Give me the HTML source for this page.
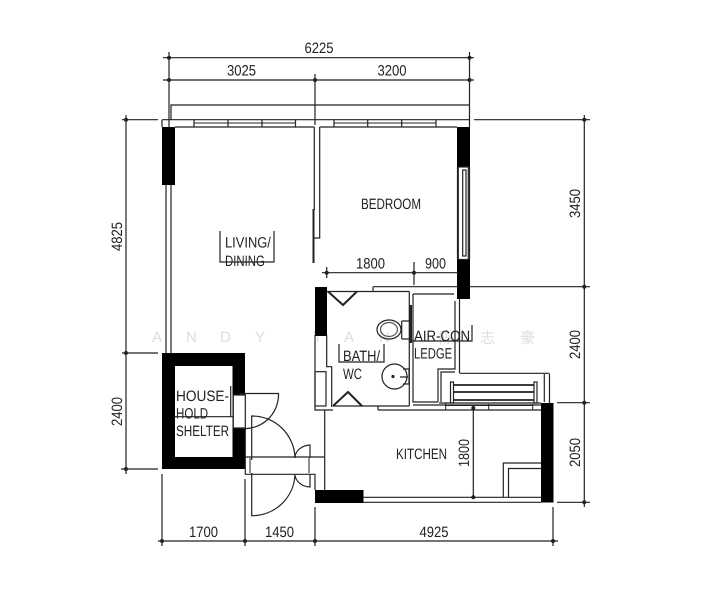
<!DOCTYPE html>
<html><head><meta charset="utf-8"><style>
html,body{margin:0;padding:0;background:#fff;width:707px;height:600px;overflow:hidden}
svg{display:block}
text{font-family:"Liberation Sans","Noto Sans CJK SC",sans-serif;font-size:15px;fill:#222;text-rendering:geometricPrecision}
.w{font-size:15px;fill:#ddd}
</style></head><body>
<svg width="707" height="600" viewBox="0 0 707 600" xmlns="http://www.w3.org/2000/svg">
<g>
<text class="w" x="152" y="342">A</text><text class="w" x="186" y="342">N</text><text class="w" x="220" y="342">D</text><text class="w" x="255" y="342">Y</text>
<text class="w" x="313" y="342">T</text><text class="w" x="344" y="342">A</text><text class="w" x="379" y="342">N</text>
<text class="w" x="439" y="343">陈</text><text class="w" x="480" y="343">志</text><text class="w" x="520" y="343">豪</text>
</g>
<!-- black walls -->
<g fill="#000" stroke="none">
<rect x="162" y="127" width="13" height="58"/>
<rect x="457" y="127" width="13" height="40"/>
<rect x="457" y="259" width="13" height="40"/>
<rect x="315" y="287" width="12" height="49"/>
<rect x="315" y="490" width="48.5" height="13"/>
<rect x="541" y="403" width="12.5" height="99.5"/>
<path fill-rule="evenodd" d="M162 353H245V469H162Z M175 366V457H232.5V366Z"/>
</g>
<rect x="233" y="395" width="12.5" height="33" fill="#fff"/>
<g fill="none" stroke="#222" stroke-width="1.2">
<!-- dimension lines -->
<path d="M163 57.7H474M163 80H474M169 52V127M315 74V125M469.5 52V127"/>
<path d="M171 120V105H469.500"/>
<path d="M122 119.700H158M474 119.700H590M126 115V358M122 353H158M126 353V474M121 469H158"/>
<path d="M584.300 115V507M470 286.700H590M557 402.700H590M557 502.300H590"/>
<path d="M158 541H558M162 474V546M245 479V546M315 507V546M553 507V546"/>
<path d="M322 272.700H458M326.700 267V278M414 262V285"/>
<path d="M473.300 406V499"/>
<!-- top wall -->
<path d="M162 119.700H470M175 127H314.300M319.700 127H457"/>
<path d="M194 120V127M228 120V127M262 120V127M295.500 120V127M334 120V127M367.700 120V127M401.700 120V127M436 120V127"/>
<path d="M194 123H295.500M334 123H436" stroke-width="1"/>
<path d="M162 120V127"/>
<!-- left wall double line -->
<path d="M166 185V353M171 185V353"/>
<!-- partition -->
<path d="M314.300 127V210M319.700 127V238H314.300"/>
<path d="M313.500 209V263" stroke-width="2"/>
<!-- right window -->
<path d="M457.500 167V259M469.500 167V259"/>
<rect x="458.300" y="167" width="10" height="92.500" fill="#fff"/>
<rect x="462.700" y="170" width="3.300" height="86"/>
<!-- labels brackets -->
<path d="M220 231V262H274V231"/>
<path d="M339 344V362H384V344"/>
<path d="M410 325V341H472V325"/>
<!-- bath -->
<path d="M315 335V410H333M326.700 335V366.700H331.700V407"/>
<rect x="315" y="371.700" width="11" height="34.300"/>
<path d="M333 406H409.300"/>
<path d="M327 291.500H409.300M373 286.700H458M373 286.700V291.500"/>
<path d="M328 291.500L343 305L357 291.500M333 406L348 392L362 406" stroke-width="2"/>
<path d="M409.300 291.500V406M413 294V402H438M413 294H454"/>
<path d="M378 406V410M378 410H541M413 405H541"/>
<path d="M410.500 305V343" stroke-width="3"/>
<!-- toilet -->
<ellipse cx="389" cy="329.500" rx="12" ry="9.500"/>
<ellipse cx="389" cy="329.500" rx="8.500" ry="7" stroke="#555"/>
<path d="M401.700 321H409M401.700 339H409M401.700 321V339"/>
<!-- basin -->
<circle cx="394.500" cy="376.500" r="12.500"/>
<circle cx="393" cy="376.500" r="1" fill="#222"/>
<path d="M403 369H409V384H403M400 377H408"/>
<!-- ledge right -->
<path d="M455 301V369H438V402M459.500 299V373M441 402V372H455"/>
<path d="M459.500 373.300H549.500M544.300 374V402M549.500 374V403"/>
<rect x="450.500" y="382" width="3" height="21"/>
<rect x="534" y="382" width="3" height="21"/>
<path d="M453.500 385H534M453.500 392H534M453.500 400H534" stroke-width="1.800"/>
<path d="M445.700 403V410M488.700 404V410M532.700 404V410M445 405.500H533" stroke-width="1"/>
<path d="M439 403H541"/>
<!-- kitchen -->
<path d="M363 497.300H541M363 502.300H541"/>
<path d="M503.300 497V463H541M508.500 497V468.500H541"/>
<path d="M324.700 410V490"/>
<!-- shelter -->
<path d="M175 416.700H233M230.700 386V417"/>
<path d="M233.300 395V428M233 395H245M233 428H245"/>
<path d="M245.300 393V474.300"/>
<path d="M240 393.500H278.500A34 34 0 0 1 238 428"/>
<!-- main door -->
<path d="M245 457H324.700M245 474.300H315V490"/>
<path d="M251.700 460V416A43 43 0 0 1 295 458"/>
<path d="M251.700 473V515.700A43 43 0 0 0 295 475"/>
<path d="M295 457A16 13 0 0 1 310 445V458M295 475A16 13 0 0 0 310 487V474"/>
<path d="M250 458V473M309 458V473" stroke-width="1"/>
</g>
<g fill="#222">
<circle cx="169" cy="57.700" r="2"/><circle cx="169" cy="80" r="2"/><circle cx="315" cy="80" r="2"/>
<circle cx="469.500" cy="57.700" r="2"/><circle cx="469.500" cy="80" r="2"/>
<circle cx="126" cy="119.700" r="2"/><circle cx="126" cy="353" r="2"/><circle cx="126" cy="469" r="2"/>
<circle cx="584.300" cy="119.700" r="2"/><circle cx="584.300" cy="286.700" r="2"/><circle cx="584.300" cy="402.700" r="2"/><circle cx="584.300" cy="502.300" r="2"/>
<circle cx="162" cy="541" r="2"/><circle cx="245" cy="541" r="2"/><circle cx="315" cy="541" r="2"/><circle cx="553" cy="541" r="2"/>
<circle cx="326.700" cy="272.700" r="2"/><circle cx="414" cy="272.700" r="2"/>
<circle cx="473.300" cy="408" r="2"/><circle cx="473.300" cy="497.300" r="2"/>
</g>
<!-- text -->
<g>
<text transform="translate(304.500 53) scale(.87 1)">6225</text>
<text transform="translate(227 75.700) scale(.87 1)">3025</text>
<text transform="translate(377.500 75.500) scale(.87 1)">3200</text>
<text transform="translate(361 209) scale(.774 1)">BEDROOM</text>
<text transform="translate(356 268.500) scale(.87 1)">1800</text>
<text transform="translate(425 268.500) scale(.84 1)">900</text>
<text transform="translate(225 247.500) scale(.86 1)">LIVING/</text>
<text transform="translate(225 266) scale(.76 1)">DINING</text>
<text transform="translate(343 361) scale(.86 1)">BATH/</text>
<text transform="translate(343 379) scale(.76 1)">WC</text>
<text transform="translate(414 341) scale(.885 1)">AIR-CON</text>
<text transform="translate(414 358.500) scale(.75 1)">LEDGE</text>
<text transform="translate(176 401) scale(.91 1)">HOUSE-</text>
<text transform="translate(176 418.500) scale(.77 1)">HOLD</text>
<text transform="translate(176 436) scale(.78 1)">SHELTER</text>
<text transform="translate(396 459) scale(.775 1)">KITCHEN</text>
<text transform="translate(189 537) scale(.87 1)">1700</text>
<text transform="translate(265 537) scale(.87 1)">1450</text>
<text transform="translate(419.500 537) scale(.87 1)">4925</text>
<text transform="translate(122 251) rotate(-90) scale(.87 1)">4825</text>
<text transform="translate(122 426) rotate(-90) scale(.87 1)">2400</text>
<text transform="translate(580 218) rotate(-90) scale(.87 1)">3450</text>
<text transform="translate(580 359) rotate(-90) scale(.87 1)">2400</text>
<text transform="translate(580 467) rotate(-90) scale(.87 1)">2050</text>
<text transform="translate(469 467) rotate(-90) scale(.84 1)">1800</text>
</g>
</svg>
</body></html>
